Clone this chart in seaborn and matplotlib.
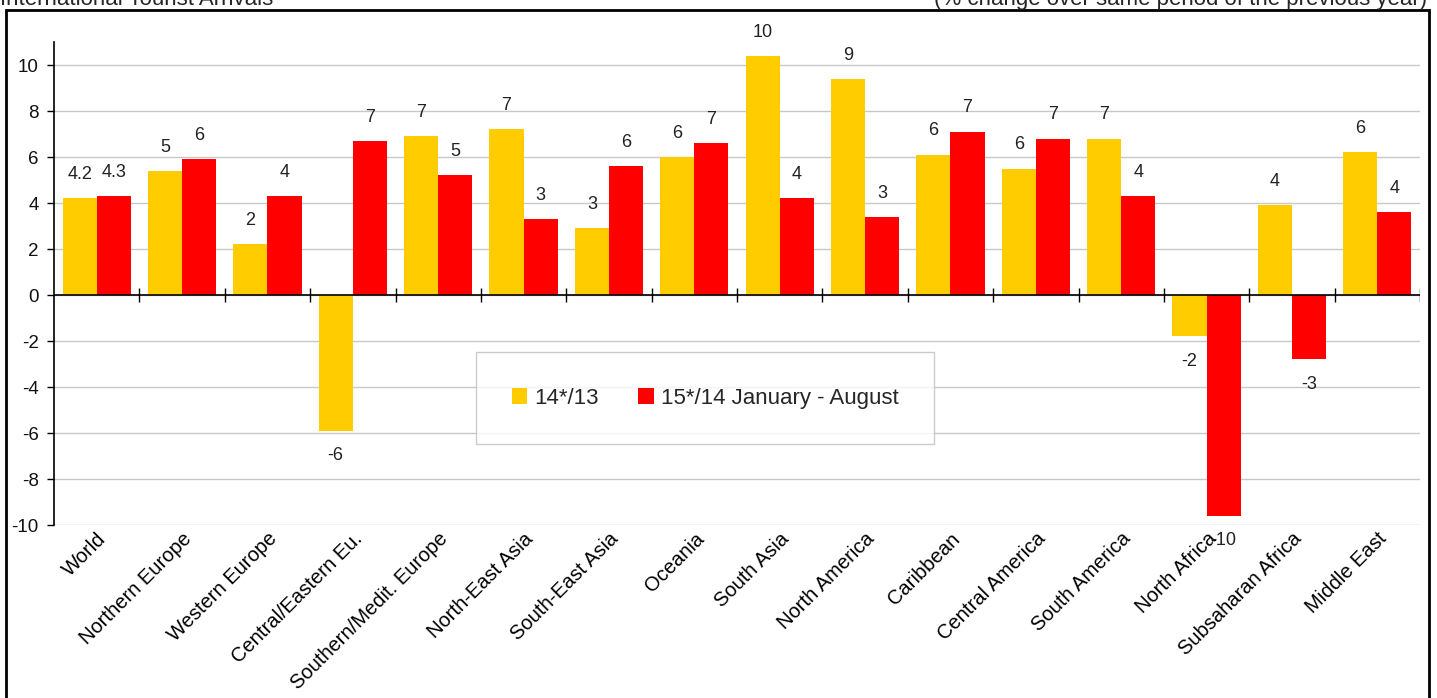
import matplotlib
matplotlib.use("Agg")
import matplotlib.pyplot as plt
import seaborn as sns
import pandas as pd
import numpy as np
from matplotlib.patches import Rectangle

regions = ["World", "Northern Europe", "Western Europe", "Central/Eastern Eu.",
           "Southern/Medit. Europe", "North-East Asia", "South-East Asia", "Oceania",
           "South Asia", "North America", "Caribbean", "Central America",
           "South America", "North Africa", "Subsaharan Africa", "Middle East"]
series_names = ["14*/13", "15*/14 January - August"]
vals_14 = [4.2, 5.4, 2.2, -5.9, 6.9, 7.2, 2.9, 6.0, 10.4, 9.4, 6.1, 5.5, 6.8, -1.8, 3.9, 6.2]
vals_15 = [4.3, 5.9, 4.3, 6.7, 5.2, 3.3, 5.6, 6.6, 4.2, 3.4, 7.1, 6.8, 4.3, -9.6, -2.8, 3.6]
labels_14 = ["4.2", "5", "2", "-6", "7", "7", "3", "6", "10", "9", "6", "6", "7", "-2", "4", "6"]
labels_15 = ["4.3", "6", "4", "7", "5", "3", "6", "7", "4", "3", "7", "7", "4", "-10", "-3", "4"]
yticks = [-10, -8, -6, -4, -2, 0, 2, 4, 6, 8, 10]
title_left = "International Tourist Arrivals"
title_right = "(% change over same period of the previous year)"

df = pd.DataFrame({
    "region": regions * 2,
    "series": [series_names[0]] * len(regions) + [series_names[1]] * len(regions),
    "value": vals_14 + vals_15,
})

sns.set_theme(style="white")
plt.rcParams["font.family"] = ["Liberation Sans", "DejaVu Sans"]

W, H = 1437, 698
fig = plt.figure(figsize=(W / 100, H / 100), dpi=100)
ax = fig.add_axes([54 / W, 1 - 525 / H, (1420 - 54) / W, (525 - 42) / H])

sns.barplot(data=df, x="region", y="value", hue="series", order=regions,
            hue_order=series_names, palette=["#FFCC00", "#FF0000"],
            width=0.8, gap=0, linewidth=0, saturation=1, ax=ax, legend=True)

ax.set_xlim(-0.5, len(regions) - 0.5)
ax.set_ylim(-10, 11)
ax.set_yticks(yticks)
ax.set_yticklabels([str(t) for t in yticks], fontsize=13.5, color="#111111")
ax.yaxis.grid(True, color="#c8c8c8", linewidth=1)
ax.set_axisbelow(True)
ax.set_xlabel("")
ax.set_ylabel("")
for s in ["top", "right", "bottom"]:
    ax.spines[s].set_visible(False)
ax.spines["left"].set_color("black")
ax.spines["left"].set_linewidth(1.2)
ax.tick_params(axis="y", left=True, length=5, width=1, color="black", pad=6)
ax.tick_params(axis="x", bottom=False, length=0, pad=3)
ax.set_xticks(range(len(regions)))
ax.set_xticklabels(regions, rotation=45, ha="right", rotation_mode="anchor",
                   fontsize=14.5, color="black")

ax.axhline(0, color="black", linewidth=1.2, zorder=3)
bounds = np.arange(0.5, len(regions) + 0.5, 1.0)
ax.vlines(bounds, -0.3, 0.3, color="black", linewidth=1, zorder=3)

# value labels
for cont, labs in zip(ax.containers, [labels_14, labels_15]):
    for bar, lab in zip(cont, labs):
        h = bar.get_height()
        x = bar.get_x() + bar.get_width() / 2
        if h >= 0:
            ax.annotate(lab, (x, h), xytext=(0, 11), textcoords="offset points",
                        ha="center", va="bottom", fontsize=13, color="#222222")
        else:
            ax.annotate(lab, (x, h), xytext=(0, -12), textcoords="offset points",
                        ha="center", va="top", fontsize=13, color="#222222")

leg = ax.legend(loc="center", bbox_to_anchor=((705 - 54) / (1420 - 54), 1 - (398 - 42) / (525 - 42)),
                ncol=2, frameon=True, fancybox=False, handlelength=0.7, handleheight=0.7,
                handletextpad=0.3, columnspacing=1.8, borderpad=1.6, borderaxespad=0,
                prop={"size": 16})
leg.get_frame().set_edgecolor("#c0c0c0")
leg.get_frame().set_linewidth(1)
leg.set_title(None)

# outer frame
fig.patches.append(Rectangle((6 / W, -0.05), (1429 - 6) / W, 1.05 - 10 / H,
                             transform=fig.transFigure, fill=False,
                             edgecolor="black", linewidth=2, zorder=0))
fig.text(0 / W, 1 - 5 / H, title_left, ha="left", va="baseline", fontsize=16)
fig.text(1427 / W, 1 - 5 / H, title_right, ha="right", va="baseline", fontsize=16)

fig.savefig("out.png", dpi=100)
